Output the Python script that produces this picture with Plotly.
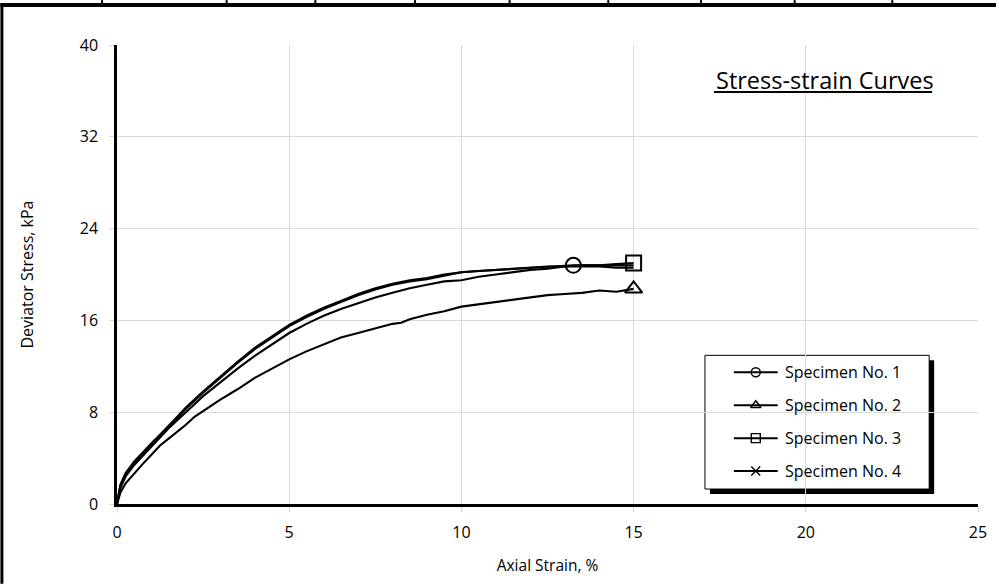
import plotly.graph_objects as go

# ---------------- data ----------------
strain_1 = [0, 0.1, 0.25, 0.5, 0.75, 1.0, 1.25, 1.5, 1.75, 2.0, 2.5, 3.0, 3.25, 3.5, 4.0, 4.5, 5.0, 5.5, 6.0,
            6.5, 7.0, 7.5, 8.0, 8.5, 9.0, 9.5, 10.0, 10.5, 11.0, 11.5, 12.0, 12.5, 13.0, 13.25, 13.5, 14.0, 14.5, 15.0]
stress_1 = [0, 1.6, 2.6, 3.6, 4.4, 5.2, 6.0, 6.8, 7.5, 8.3, 9.7, 11.0, 11.6, 12.3, 13.5, 14.5, 15.5, 16.3, 17.0,
            17.6, 18.2, 18.7, 19.1, 19.4, 19.6, 19.9, 20.2, 20.3, 20.4, 20.5, 20.6, 20.7, 20.8, 20.8, 20.8, 20.8, 20.8, 20.8]

strain_2 = [0, 0.1, 0.25, 0.5, 0.75, 1.0, 1.25, 1.5, 2.0, 2.25, 2.5, 3.0, 3.5, 4.0, 4.5, 5.0, 5.5, 6.0, 6.5, 7.0,
            7.5, 8.0, 8.25, 8.5, 9.0, 9.5, 10.0, 10.5, 11.0, 11.5, 12.0, 12.5, 13.0, 13.5, 14.0, 14.5, 15.0]
stress_2 = [0, 1.0, 1.8, 2.7, 3.5, 4.3, 5.1, 5.7, 6.9, 7.6, 8.1, 9.1, 10.0, 11.0, 11.8, 12.6, 13.3, 13.9, 14.5, 14.9,
            15.3, 15.7, 15.8, 16.1, 16.5, 16.8, 17.2, 17.4, 17.6, 17.8, 18.0, 18.2, 18.3, 18.4, 18.6, 18.5, 18.75]

strain_3 = [0, 0.1, 0.25, 0.5, 0.75, 1.0, 1.5, 2.0, 2.5, 3.0, 3.5, 4.0, 4.5, 5.0, 5.5, 6.0, 6.5, 7.0, 7.5, 8.0,
            8.5, 9.0, 9.5, 10.0, 10.5, 11.0, 11.5, 12.0, 12.5, 13.0, 13.5, 14.0, 14.5, 15.0]
stress_3 = [0, 1.4, 2.4, 3.4, 4.2, 5.0, 6.6, 8.0, 9.4, 10.6, 11.8, 12.9, 13.9, 14.9, 15.7, 16.4, 17.0, 17.5, 18.0, 18.4,
            18.8, 19.1, 19.4, 19.5, 19.8, 20.0, 20.2, 20.4, 20.5, 20.7, 20.8, 20.8, 20.9, 21.0]

strain_4 = [0, 0.1, 0.25, 0.5, 0.75, 1.0, 1.5, 2.0, 2.5, 3.0, 3.5, 4.0, 4.5, 5.0, 5.5, 6.0, 6.5, 7.0, 7.5, 8.0,
            8.5, 9.0, 9.5, 10.0, 10.5, 11.0, 11.5, 12.0, 12.5, 13.0, 13.5, 14.0, 14.5, 15.0]
stress_4 = [0, 1.7, 2.7, 3.7, 4.5, 5.3, 6.8, 8.4, 9.8, 11.1, 12.4, 13.6, 14.6, 15.6, 16.4, 17.1, 17.7, 18.3, 18.8, 19.2,
            19.5, 19.7, 20.0, 20.2, 20.3, 20.4, 20.5, 20.6, 20.7, 20.7, 20.7, 20.7, 20.6, 20.6]

# marked (end / peak) points
mark_1 = (13.25, 20.8)
mark_2 = (15.0, 18.75)
mark_3 = (15.0, 21.0)

names = ["Specimen No. 1", "Specimen No. 2", "Specimen No. 3", "Specimen No. 4"]
symbols = ["circle-open", "triangle-up-open", "square-open", "x-thin-open"]

x_ticks = [0, 5, 10, 15, 20, 25]
y_ticks = [0, 8, 16, 24, 32, 40]

# ---------------- geometry helpers (pixel -> paper) ----------------
W, H = 999, 585
L, R, T, B = 117, 18, 45, 80
PW, PH = W - L - R, H - T - B


def px(x):
    return (x - L) / PW


def py(y):
    return (H - B - y) / PH


FONT = "Open Sans"
fig = go.Figure()

curves = [(strain_1, stress_1), (strain_2, stress_2), (strain_3, stress_3), (strain_4, stress_4)]
for (sx, sy) in curves:
    fig.add_trace(go.Scatter(x=sx, y=sy, mode="lines", line=dict(color="black", width=2.1),
                             showlegend=False, hoverinfo="skip"))

for (m, sym) in zip([mark_1, mark_2, mark_3], symbols[:3]):
    fig.add_trace(go.Scatter(x=[m[0]], y=[m[1]], mode="markers",
                             marker=dict(symbol=sym, size=15, color="black", line=dict(color="black", width=2)),
                             showlegend=False, hoverinfo="skip"))

# ---- custom legend drawn on an overlay axis in pixel units ----
leg_rows = [373, 406, 439, 472]
annotations = []
for n, sym, ry in zip(names, symbols, leg_rows):
    fig.add_trace(go.Scatter(x=[736, 780], y=[ry, ry], xaxis="x2", yaxis="y2", mode="lines",
                             line=dict(color="black", width=2), showlegend=False, hoverinfo="skip"))
    fig.add_trace(go.Scatter(x=[758], y=[ry], xaxis="x2", yaxis="y2", mode="markers",
                             marker=dict(symbol=sym, size=9, color="black", line=dict(color="black", width=1.4)),
                             showlegend=False, hoverinfo="skip"))
    annotations.append(dict(text=n, xref="x2", yref="y2", x=785, y=ry, xanchor="left", yanchor="middle",
                            showarrow=False, font=dict(family=FONT, size=16, color="black")))

annotations.append(dict(text="Stress-strain Curves", xref="paper", yref="paper", x=px(827), y=py(80),
                        xanchor="center", yanchor="middle", showarrow=False,
                        font=dict(family=FONT, size=23.5, color="black")))

shapes = []
# outer page border (top thick bar, left bar, small separators)
shapes.append(dict(type="rect", xref="paper", yref="paper", x0=px(0), x1=px(999), y0=py(7), y1=py(3),
                   fillcolor="black", line=dict(width=0)))
shapes.append(dict(type="rect", xref="paper", yref="paper", x0=px(0), x1=px(3), y0=py(585), y1=py(3),
                   fillcolor="black", line=dict(width=0)))
for sx in [102, 227, 316, 416, 511, 610, 703, 797, 895]:
    shapes.append(dict(type="rect", xref="paper", yref="paper", x0=px(sx - 1), x1=px(sx + 1), y0=py(3), y1=py(0),
                       fillcolor="black", line=dict(width=0)))
# legend shadow & box (below the legend traces)
shapes.append(dict(type="rect", xref="paper", yref="paper", x0=px(712), x1=px(937), y0=py(495), y1=py(361),
                   fillcolor="black", line=dict(width=0), layer="below"))
shapes.append(dict(type="rect", xref="paper", yref="paper", x0=px(707), x1=px(932), y0=py(490), y1=py(356),
                   fillcolor="white", line=dict(color="black", width=1), layer="below"))
# title underline
shapes.append(dict(type="line", xref="paper", yref="paper", x0=px(716), x1=px(935), y0=py(92), y1=py(92),
                   line=dict(color="black", width=2)))

fig.update_layout(
    width=W, height=H,
    margin=dict(l=L, r=R, t=T, b=B),
    paper_bgcolor="white", plot_bgcolor="rgba(0,0,0,0)",
    font=dict(family=FONT, color="black", size=16),
    shapes=shapes,
    showlegend=False,
    annotations=annotations,
    xaxis=dict(range=[0, 25], tickvals=x_ticks, ticktext=[str(v) for v in x_ticks],
               showgrid=True, gridcolor="#d9d9d9", gridwidth=1, zeroline=False,
               showline=True, linecolor="black", linewidth=2.5, ticks="outside", tickcolor="#d9d9d9",
               ticklen=5, ticklabelstandoff=7, tickfont=dict(size=16),
               title=dict(text="Axial Strain, %", font=dict(size=15.5), standoff=19)),
    yaxis=dict(range=[0, 40], tickvals=y_ticks, ticktext=[str(v) for v in y_ticks],
               showgrid=True, gridcolor="#d9d9d9", gridwidth=1, zeroline=False,
               showline=True, linecolor="black", linewidth=2.5, ticks="outside", tickcolor="#d9d9d9",
               ticklen=5, ticklabelstandoff=8, tickfont=dict(size=16),
               title=dict(text="Deviator Stress, kPa", font=dict(size=16), standoff=43)),
    xaxis2=dict(overlaying="x", range=[L, W - R], visible=False, fixedrange=True),
    yaxis2=dict(overlaying="y", range=[H - B, T], visible=False, fixedrange=True),
)

fig.write_html("out.html", config={"displayModeBar": False},
               post_script="document.body.style.margin='0px';")
